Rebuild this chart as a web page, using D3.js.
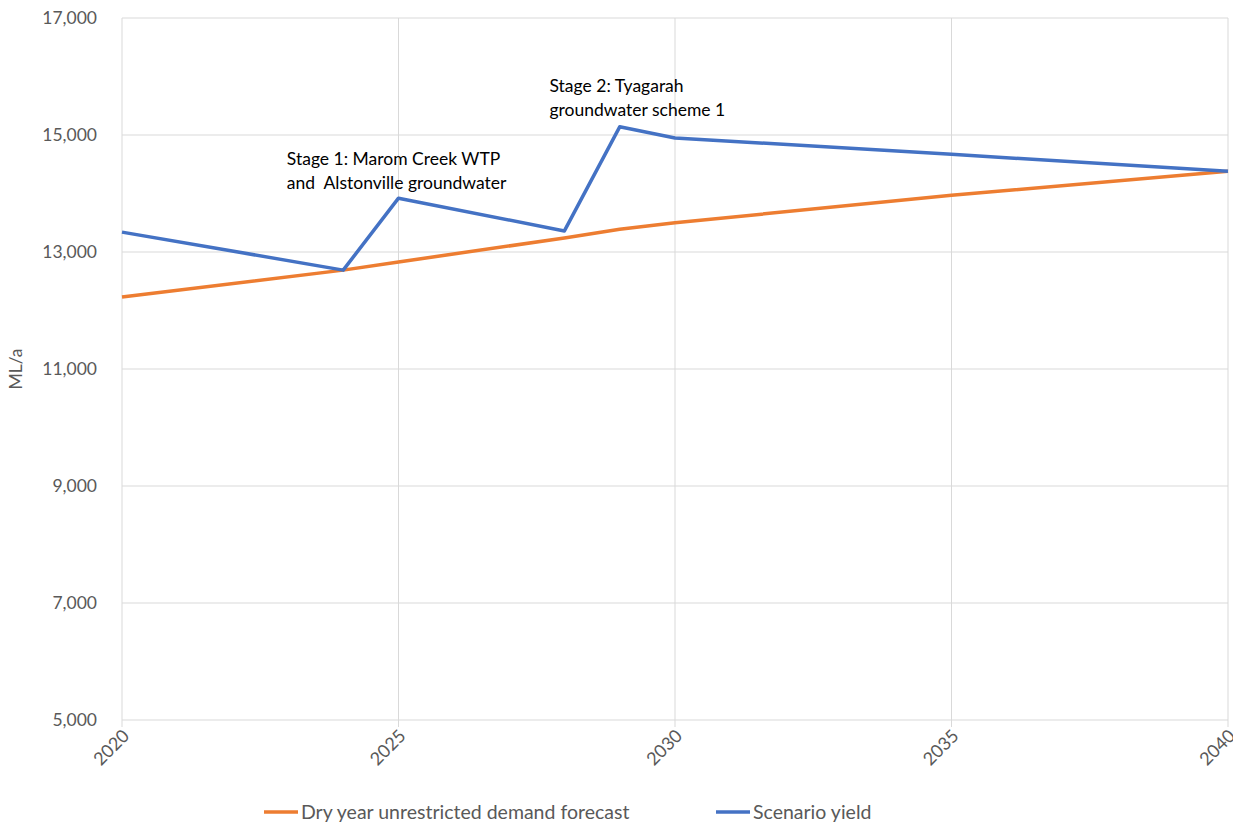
<!DOCTYPE html>
<html><head><meta charset="utf-8">
<script src="https://cdn.jsdelivr.net/npm/d3@7"></script>
<style>body{margin:0;background:#fff}svg{display:block}text{font-family:Lato,"Open Sans",sans-serif}</style>
</head><body><svg id="c" width="1233" height="823"></svg>
<script>
const demandYears = [2020, 2024, 2025, 2028, 2029, 2030, 2035, 2040];
const demandValues = [12230, 12690, 12830, 13240, 13390, 13500, 13970, 14380];
const yieldYears = [2020, 2024, 2025, 2028, 2029, 2030, 2035, 2040];
const yieldValues = [13340, 12690, 13920, 13360, 15140, 14950, 14670, 14380];
const xTicks = [2020, 2025, 2030, 2035, 2040];
const yTicks = [5000, 7000, 9000, 11000, 13000, 15000, 17000];
const seriesNames = ["Dry year unrestricted demand forecast", "Scenario yield"];
const seriesColors = ["#ed7d31", "#4472c4"];
const annotations = [
  {year: 2022.8, value: 14490, lines: ["Stage 1: Marom Creek WTP", "and  Alstonville groundwater"]},
  {year: 2027.55, value: 15735, lines: ["Stage 2: Tyagarah", "groundwater scheme 1"]}
];

const svg = d3.select("#c");
const x = d3.scaleLinear().domain([2020, 2040]).range([122, 1228]);
const y = d3.scaleLinear().domain([5000, 17000]).range([720, 18]);
const grey = "#d9d9d9", txt = "#595959";

// grid
svg.append("g").selectAll("line").data(yTicks).join("line")
  .attr("x1", x(2020)).attr("x2", x(2040)).attr("y1", d => y(d)).attr("y2", d => y(d))
  .attr("stroke", grey).attr("stroke-width", 1);
svg.append("g").selectAll("line").data(xTicks).join("line")
  .attr("x1", d => x(d)).attr("x2", d => x(d)).attr("y1", y(17000)).attr("y2", y(5000) + 7)
  .attr("stroke", grey).attr("stroke-width", 1);

// y axis labels
const yAxis = d3.axisLeft(y).tickValues(yTicks).tickFormat(d3.format(",")).tickSize(0).tickPadding(25);
const ya = svg.append("g").attr("transform", `translate(${x(2020)},0)`).call(yAxis);
ya.select(".domain").remove();
ya.selectAll("text").attr("fill", txt).style("font-size", "17.5px").style("font-family", "Lato,sans-serif");

// x axis labels
const xAxis = d3.axisBottom(x).tickValues(xTicks).tickFormat(d => String(d)).tickSize(0);
const xa = svg.append("g").attr("transform", `translate(0,${y(5000)})`).call(xAxis);
xa.select(".domain").remove();
xa.selectAll("text").attr("fill", txt).style("font-size", "18px").style("font-family", "Lato,sans-serif")
  .attr("text-anchor", "end").attr("dy", null).attr("y", 0)
  .attr("transform", "translate(8,17) rotate(-45)");

// y title
svg.append("text").attr("transform", `translate(22,${y(11000)}) rotate(-90)`)
  .attr("text-anchor", "middle").attr("fill", txt).style("font-size", "17.5px").text("ML/a");

// lines
const line = d3.line().x(d => x(d[0])).y(d => y(d[1]));
const series = [
  demandYears.map((yr, i) => [yr, demandValues[i]]),
  yieldYears.map((yr, i) => [yr, yieldValues[i]])
];
series.forEach((s, i) => {
  svg.append("path").datum(s).attr("d", line).attr("fill", "none")
    .attr("stroke", seriesColors[i]).attr("stroke-width", 3.5).attr("stroke-linejoin", "round");
});

// annotations
annotations.forEach(a => {
  const t = svg.append("text").attr("x", x(a.year) + 10).attr("y", y(a.value)).attr("fill", "#000")
    .style("font-size", "17.5px");
  a.lines.forEach((l, i) => t.append("tspan").attr("x", x(a.year) + 10).attr("dy", i ? 24 : 0)
    .attr("xml:space", "preserve").style("white-space", "pre").text(l));
});

// legend
const legX = [264, 716];
seriesNames.forEach((n, i) => {
  svg.append("line").attr("x1", legX[i]).attr("x2", legX[i] + 34).attr("y1", 812).attr("y2", 812)
    .attr("stroke", seriesColors[i]).attr("stroke-width", 3.5);
  svg.append("text").attr("x", legX[i] + 37).attr("y", 819).attr("fill", txt)
    .style("font-size", "19.5px").text(n);
});
</script></body></html>
